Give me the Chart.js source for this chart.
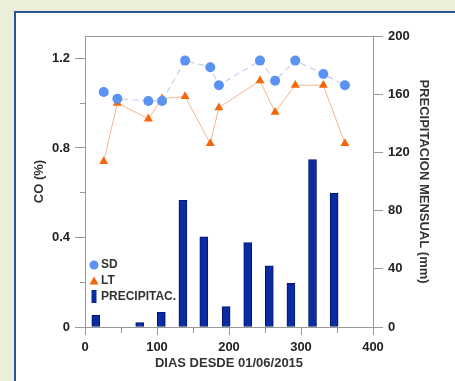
<!DOCTYPE html>
<html>
<head>
<meta charset="utf-8">
<script src="https://cdn.jsdelivr.net/npm/chart.js@4.4.1/dist/chart.umd.min.js"></script>
<style>
  html, body { margin: 0; padding: 0; }
  body { width: 455px; height: 381px; overflow: hidden; position: relative; background: #ebeed8; }
  #panel { position: absolute; left: 14px; top: 11px; width: 460px; height: 390px; background: #fff;
           border-left: 2px solid #2b5592; border-top: 2px solid #2b5592; }
  #chart { position: absolute; left: 0; top: 0; }
</style>
</head>
<body>
<div id="panel"></div>
<canvas id="chart" width="455" height="381"></canvas>
<script>
// CO (%) per sampling day
var diasCO = [26, 45, 88, 107, 139, 174, 186, 243, 264, 292, 331, 361];
var sdValues = [1.05, 1.02, 1.01, 1.01, 1.19, 1.16, 1.08, 1.19, 1.10, 1.19, 1.13, 1.08];
var ltValues = [0.74, 1.00, 0.93, 1.02, 1.03, 0.82, 0.98, 1.10, 0.96, 1.08, 1.08, 0.82];

// monthly precipitation (mm)
var diasPrecip = [15, 76, 106, 136, 165, 196, 226, 256, 286, 316, 346];
var precipValues = [8, 3, 10, 87, 62, 14, 58, 42, 30, 115, 92];

var seriesLabels = ['SD', 'LT', 'PRECIPITAC.'];
var xTitle = 'DIAS DESDE 01/06/2015';
var yTitle = 'CO (%)';
var y2Title = 'PRECIPITACION MENSUAL (mm)';

var axisColor = '#999';
var textColor = '#222';
var sdColor = '#5b93f2';
var ltColor = '#f5650a';
var barColor = '#0b2ca0';

function toPoints(xs, ys) {
    return xs.map(function (x, i) { return { x: x, y: ys[i] }; });
}

var tickFont = { family: 'Liberation Sans, Arial, sans-serif', size: 13, weight: 'bold' };
var titleFont = { family: 'Liberation Sans, Arial, sans-serif', size: 13, weight: 'bold' };

// top frame line + legend inside the plot
var framePlugin = {
    id: 'frame',
    afterDatasetsDraw: function (chart) {
        var ctx = chart.ctx;
        var a = chart.chartArea;
        ctx.save();
        ctx.strokeStyle = axisColor;
        ctx.lineWidth = 1;
        ctx.beginPath();
        ctx.moveTo(a.left, a.top + 0.5);
        ctx.lineTo(a.right, a.top + 0.5);
        ctx.stroke();

        var lx = a.left + 9;
        var ly = a.bottom - 62;
        var ds = chart.data.datasets;
        ctx.font = 'bold 12px Liberation Sans, Arial, sans-serif';
        ctx.textBaseline = 'middle';
        ctx.fillStyle = '#333';
        ctx.fillText(ds[0].label, lx + 7, ly);
        ctx.fillText(ds[1].label, lx + 7, ly + 16);
        ctx.fillText(ds[2].label, lx + 7, ly + 32);

        ctx.fillStyle = sdColor;
        ctx.beginPath();
        ctx.arc(lx, ly, 4.5, 0, Math.PI * 2);
        ctx.fill();

        ctx.fillStyle = ltColor;
        ctx.beginPath();
        ctx.moveTo(lx, ly + 16 - 4.5);
        ctx.lineTo(lx + 4.5, ly + 16 + 3.5);
        ctx.lineTo(lx - 4.5, ly + 16 + 3.5);
        ctx.closePath();
        ctx.fill();

        ctx.fillStyle = barColor;
        ctx.fillRect(lx - 2.5, ly + 25, 5, 13);
        ctx.restore();
    }
};

new Chart(document.getElementById('chart').getContext('2d'), {
    type: 'bar',
    data: {
        datasets: [
            {
                type: 'line',
                label: seriesLabels[0],
                data: toPoints(diasCO, sdValues),
                yAxisID: 'y',
                borderColor: '#c9cdf2',
                borderWidth: 1.2,
                borderDash: [6, 4],
                pointStyle: 'circle',
                pointRadius: 5,
                pointBackgroundColor: sdColor,
                pointBorderColor: sdColor,
                pointBorderWidth: 0,
                order: 1
            },
            {
                type: 'line',
                label: seriesLabels[1],
                data: toPoints(diasCO, ltValues),
                yAxisID: 'y',
                borderColor: '#f7b48a',
                borderWidth: 1,
                pointStyle: 'triangle',
                pointRadius: 5.2,
                pointBackgroundColor: ltColor,
                pointBorderColor: ltColor,
                pointBorderWidth: 0,
                order: 2
            },
            {
                type: 'bar',
                label: seriesLabels[2],
                data: toPoints(diasPrecip, precipValues),
                yAxisID: 'y2',
                backgroundColor: barColor,
                borderColor: '#001670',
                borderWidth: 1,
                borderSkipped: false,
                barThickness: 8,
                order: 3
            }
        ]
    },
    options: {
        responsive: false,
        animation: false,
        layout: { padding: { top: 36, left: 0, right: 0, bottom: 0 } },
        plugins: { legend: { display: false }, tooltip: { enabled: false } },
        scales: {
            x: {
                type: 'linear',
                position: 'bottom',
                min: 0,
                max: 400,
                offset: false,
                afterFit: function (s) { s.height = 54; },
                ticks: {
                    stepSize: 50,
                    autoSkip: false,
                    maxRotation: 0,
                    padding: 5,
                    color: textColor,
                    font: tickFont,
                    callback: function (v) { return v % 100 === 0 ? String(v) : ''; }
                },
                grid: {
                    offset: false,
                    drawOnChartArea: false,
                    tickLength: 8,
                    tickColor: axisColor,
                    tickBorderDash: function (c) { return c.tick && c.tick.value % 100 !== 0 ? [5, 100] : []; }
                },
                border: { display: true, color: axisColor },
                title: { display: true, text: xTitle, color: '#333', font: titleFont, padding: { top: 0, bottom: 10 } }
            },
            y: {
                type: 'linear',
                position: 'left',
                min: 0,
                max: 1.3,
                afterFit: function (s) { s.width = 85; },
                ticks: {
                    stepSize: 0.2,
                    includeBounds: false,
                    autoSkip: false,
                    padding: 5,
                    color: textColor,
                    font: tickFont,
                    callback: function (v) {
                        var t = Math.round(v * 10);
                        return t % 4 === 0 ? String(t / 10) : '';
                    }
                },
                grid: {
                    drawOnChartArea: false,
                    tickLength: 10,
                    tickColor: axisColor,
                    tickBorderDash: function (c) {
                        return c.tick && Math.round(c.tick.value * 10) % 4 !== 0 ? [0, 5, 5, 100] : [];
                    }
                },
                border: { display: true, color: axisColor },
                title: { display: true, text: yTitle, color: '#333', font: titleFont, padding: { top: 32, bottom: 0 } }
            },
            y2: {
                type: 'linear',
                position: 'right',
                min: 0,
                max: 200,
                afterFit: function (s) { s.width = 82; },
                ticks: { stepSize: 40, padding: 5, color: textColor, font: tickFont },
                grid: { drawOnChartArea: false, tickLength: 10, tickColor: axisColor },
                border: { display: true, color: axisColor },
                title: { display: true, text: y2Title, color: '#333', font: titleFont, padding: { top: 24, bottom: 0 } }
            }
        }
    },
    plugins: [framePlugin]
});
</script>
</body>
</html>
